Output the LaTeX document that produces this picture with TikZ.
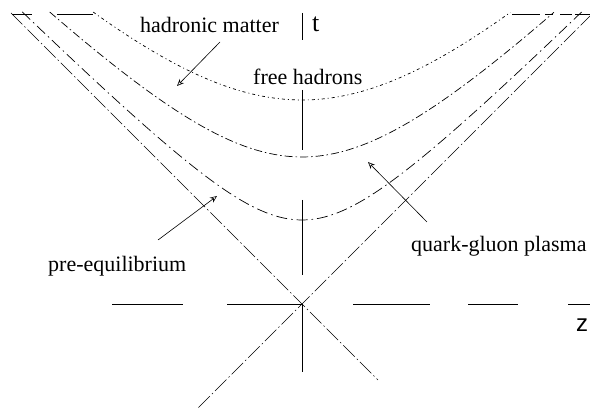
\documentclass[tikz,border=0pt]{standalone}
\usepackage{fontspec}
\setmainfont{Liberation Serif}
\setsansfont{Liberation Sans}
\usetikzlibrary{arrows.meta}
\begin{document}
\begin{tikzpicture}[x=1pt,y=-1pt,
  cone/.style={line width=0.7pt, dash pattern=on 16pt off 3pt on 1.5pt off 3pt},
  hypout/.style={line width=0.7pt, dash pattern=on 3pt off 3pt on 1pt off 3pt},
  hypmid/.style={line width=0.7pt, dash pattern=on 8pt off 3pt on 1.5pt off 3pt},
  hypin/.style={line width=0.7pt, dash pattern=on 11pt off 4pt on 1.5pt off 4pt},
  axisline/.style={line width=0.8pt},
  topline/.style={line width=0.8pt},
  lbl/.style={inner sep=0pt, anchor=base west, font=\fontsize{22}{26}\selectfont},
  ptr/.style={line width=0.6pt, -{Stealth[open,length=7pt,width=6pt]}}]
\useasboundingbox (0,0) rectangle (590,411);
\coordinate (O) at (302,304);
% horizontal axis (long dashes)
\foreach \a/\b in {112/183,227/302,353/430,468/518,568/590}
  \draw[axisline] (\a,304) -- (\b,304);
% vertical axis (long dashes)
\foreach \a/\b in {13/40,90/150,200/275,304/372}
  \draw[axisline] (302,\a) -- (302,\b);
% light cone
\coordinate (LT) at (11,13);
\coordinate (LB) at (378,380);
\coordinate (RT) at (592,14);
\coordinate (RB) at (197,409);
\draw[cone] (LT) -- (O) -- (LB);
\draw[cone] (RT) -- (O) -- (RB);
% hyperbolae t^2 - z^2 = tau^2
\draw[hypin]  plot[domain=-1.918:1.918, samples=80, variable=\u] ({302+84*sinh(\u)}, {304-84*cosh(\u)});
\draw[hypmid] plot[domain=-1.309:1.309, samples=80, variable=\u] ({302+147*sinh(\u)}, {304-147*cosh(\u)});
\draw[hypout] plot[domain=-0.898:0.898, samples=80, variable=\u] ({302+204*sinh(\u)}, {304-204*cosh(\u)});
% top edge pieces
\draw[topline] (12,14) -- (32,14);
\draw[topline] (57,14) -- (93,14);
\foreach \a/\b in {512/540,545/553,560/572,575/590}
  \draw[topline] (\a,14) -- (\b,14);
% labels
\node[lbl] (hm) at (140,33) {hadronic matter};
\node[lbl] (fh) at (253,85) {free hadrons};
\node[lbl] (pe) at (48,272) {pre-equilibrium};
\node[lbl] (qgp) at (411,252) {quark-gluon plasma};
\node[lbl, font=\fontsize{26}{30}\selectfont] (tl) at (312,32) {t};
\node[lbl, font=\sffamily\fontsize{24}{28}\selectfont] (zl) at (576,332) {z};
% pointers
\coordinate (hmA) at (220,42);
\coordinate (hmB) at (177,86);
\coordinate (peA) at (158,240);
\coordinate (peB) at (217,196);
\coordinate (qA) at (427,222);
\coordinate (qB) at (368,162);
\draw[ptr] (hmA) -- (hmB);
\draw[ptr] (peA) -- (peB);
\draw[ptr] (qA) -- (qB);
\end{tikzpicture}
\end{document}
